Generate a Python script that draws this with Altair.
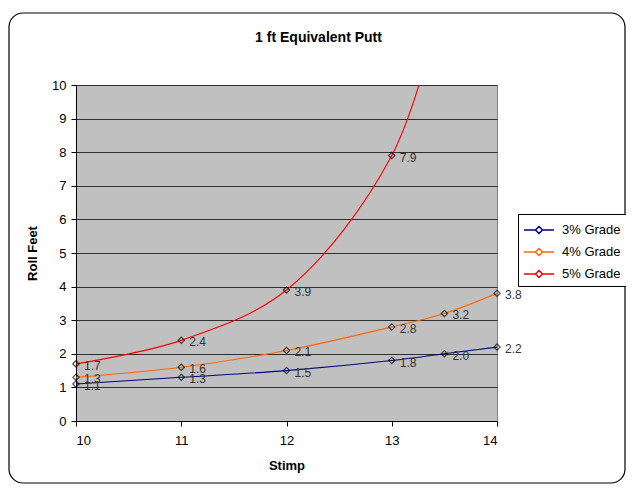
import altair as alt
import pandas as pd

stimp_3 = [10, 11, 12, 13, 13.5, 14]
grade_3 = [1.1, 1.3, 1.5, 1.8, 2.0, 2.2]
stimp_4 = [10, 11, 12, 13, 13.5, 14]
grade_4 = [1.3, 1.6, 2.1, 2.8, 3.2, 3.8]
stimp_5 = [10, 11, 12, 13, 13.5]
grade_5 = [1.7, 2.4, 3.9, 7.9, 12.8]
series = ["3% Grade", "4% Grade", "5% Grade"]
colors = ["#000080", "#FF6600", "#FF0000"]
x_ticks = [10, 11, 12, 13, 14]
y_ticks = [0, 1, 2, 3, 4, 5, 6, 7, 8, 9, 10]

rows = []
for name, xs, ys in zip(series, [stimp_3, stimp_4, stimp_5], [grade_3, grade_4, grade_5]):
    for i, (x, y) in enumerate(zip(xs, ys)):
        rows.append({"series": name, "stimp": x, "roll": y, "order": i})
df = pd.DataFrame(rows)

FONT = "Liberation Sans"

xenc = alt.X("stimp:Q", scale=alt.Scale(domain=[10, 14], nice=False, zero=False),
             axis=alt.Axis(values=x_ticks, format="d", title="Stimp", grid=False,
                           labelPadding=8, titlePadding=12, labelOverlap=False))
yenc = alt.Y("roll:Q", scale=alt.Scale(domain=[0, 10], nice=False),
             axis=alt.Axis(values=y_ticks, format="d", title="Roll Feet", grid=True,
                           labelPadding=5, titlePadding=12, labelOverlap=False,
                           tickCount=11))

base = alt.Chart(df)

legend_path = "M-1.5,0H-0.35M0.35,0H1.5M0,-0.35L0.35,0L0,0.35L-0.35,0Z"

lines = base.mark_line(interpolate="catmull-rom", strokeWidth=1.1, clip=True).encode(
    x=xenc, y=yenc,
    color=alt.Color("series:N", scale=alt.Scale(domain=series, range=colors),
                    legend=alt.Legend(title=None, orient="none", legendX=442, legendY=129,
                                      padding=5, symbolOffset=5, labelOffset=12,
                                      rowPadding=4, symbolSize=400, symbolType=legend_path,
                                      symbolStrokeWidth=1.5, strokeColor="black",
                                      fillColor="white", labelFontSize=13, labelFont=FONT,
                                      labelColor="black")),
    order="order:Q",
)

visible = base.transform_filter("datum.roll <= 10")

points = visible.mark_point(shape="diamond", size=40, filled=False, stroke="black",
                            strokeWidth=1.2).encode(x=xenc, y=yenc)

labels = visible.mark_text(align="left", baseline="middle", dx=8, dy=2, fontSize=12,
                           font=FONT, color="#333333").encode(
    x=xenc, y=yenc, text=alt.Text("roll:Q", format=".1f"))

frame = alt.Chart(alt.Data(values=[{"a": 1}])).mark_rect(
    filled=False, stroke="black", strokeWidth=1.2, cornerRadius=14
).encode(x=alt.value(-67), x2=alt.value(549), y=alt.value(-72), y2=alt.value(398))

chart = alt.layer(lines, points, labels, frame).properties(
    width=421, height=336,
    autosize=alt.AutoSizeParams(type="none"),
    padding={"left": 68, "top": 77, "right": 129, "bottom": 63},
    background="white",
    title=alt.Title("1 ft Equivalent Putt", fontSize=14, font=FONT, fontWeight="bold",
                    anchor="middle", frame="group", dx=32, offset=-33, color="black"),
).configure_view(fill="#C0C0C0", stroke="#808080", strokeWidth=1).configure_axis(
    labelFont=FONT, labelFontSize=13, labelColor="black", titleFont=FONT, titleFontSize=13,
    titleFontWeight="bold", titleColor="black", domainColor="black", tickColor="black",
    tickSize=5, gridColor="#303030", gridOpacity=1, gridWidth=1,
)

chart.save("out.html", embed_options={"renderer": "svg", "actions": False})
